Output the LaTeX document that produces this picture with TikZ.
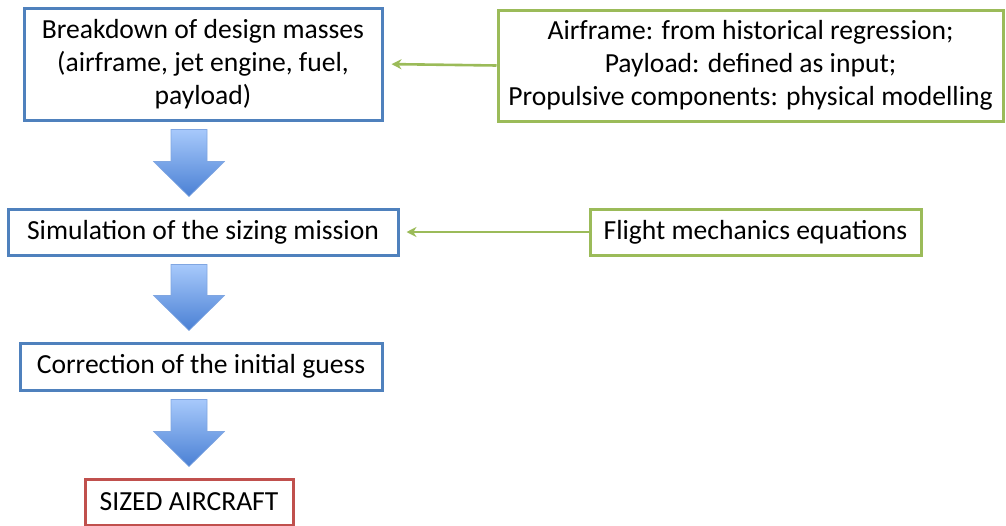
\documentclass[tikz,border=0pt]{standalone}
\usepackage{fontspec}
\setmainfont{Carlito}
\usetikzlibrary{arrows.meta,calc}

\definecolor{boxblue}{HTML}{4F81BD}
\definecolor{boxgreen}{HTML}{9BBB59}
\definecolor{boxred}{HTML}{C0504D}
\definecolor{arrowtop}{HTML}{A7C9FB}
\definecolor{arrowbot}{HTML}{4A80D4}

\begin{document}
\begin{tikzpicture}[x=0.5pt, y=-0.5pt, >=Stealth,
  stepbox/.style={draw=boxblue, line width=1.5pt, fill=white, align=center,
    inner sep=0pt, font=\fontsize{13.8}{16.5}\selectfont},
  inputbox/.style={stepbox, draw=boxgreen},
  resultbox/.style={stepbox, draw=boxred},
  feed/.style={-{Stealth[length=5pt,width=5pt]}, draw=boxgreen, line width=1.3pt},
  blockarrow/.style={top color=arrowtop, bottom color=arrowbot, draw=arrowbot!70, line width=0.3pt}]
  \useasboundingbox (0,0) rectangle (1006,525);
  % main chain
  \node[stepbox, minimum width=179pt, minimum height=56pt] (mass) at (203,64)
    {Breakdown of design masses\\(airframe, jet engine, fuel,\\payload)};
  \node[stepbox, minimum width=195pt, minimum height=23pt] (sim) at (203,232)
    {Simulation of the sizing mission};
  \node[stepbox, minimum width=181pt, minimum height=23.5pt] (corr) at (201,366.5)
    {Correction of the initial guess};
  \node[resultbox, minimum width=104pt, minimum height=23pt] (sized) at (189,502)
    {SIZED AIRCRAFT};
  % inputs
  \node[inputbox, minimum width=252.5pt, minimum height=55.5pt] (models) at (750.5,65.5)
    {Airframe: from historical regression;\\Payload: defined as input;\\Propulsive components: physical modelling};
  \node[inputbox, minimum width=165.5pt, minimum height=23pt] (flight) at (755.5,232)
    {Flight mechanics equations};
  \draw[feed, shorten >=4pt] (models.west) -- (mass.east);
  \draw[feed, shorten >=3.5pt] (flight.west) -- (sim.east);
  % block arrows
  \foreach \a/\b in {mass/sim, sim/corr, corr/sized}
    \shade[blockarrow] let \p1=(\a.south), \p2=(\b.north) in
      (85.5pt,\y1-4pt) -- (103.5pt,\y1-4pt) -- (103.5pt,\y2+23pt) -- (112.25pt,\y2+23pt)
      -- (94.5pt,\y2+5.5pt) -- (76.75pt,\y2+23pt) -- (85.5pt,\y2+23pt) -- cycle;
\end{tikzpicture}
\end{document}
